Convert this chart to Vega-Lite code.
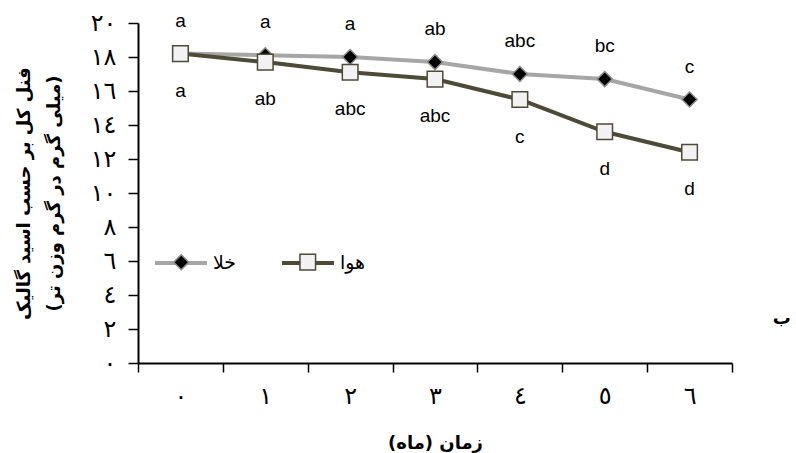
{
  "$schema": "https://vega.github.io/schema/vega-lite/v6.json",
  "width": 594,
  "height": 340,
  "autosize": {"type": "none"},
  "padding": {"left": 138, "top": 23, "right": 64, "bottom": 90},
  "background": "white",
  "config": {
    "view": {"stroke": null},
    "axis": {"grid": false, "domainColor": "black", "tickColor": "black", "labelColor": "black", "titleColor": "black"},
    "axisY": {"labelOverlap": false, "labelFontSize": 24, "labelFont": "DejaVu Sans"},
    "axisX": {"labelFontSize": 24, "labelFont": "DejaVu Sans"}
  },
  "title": {"text": "ب", "orient": "right", "angle": 0, "anchor": "end", "offset": 40, "dy": -142, "fontSize": 18, "fontWeight": "bold", "font": "DejaVu Sans", "color": "black"},
  "data": {
    "values": [
      {"month": 0, "series": "خلا", "sym": "خلا", "value": 18.2, "letter": "a"},
      {"month": 1, "series": "خلا", "sym": "خلا", "value": 18.1, "letter": "a"},
      {"month": 2, "series": "خلا", "sym": "خلا", "value": 18.0, "letter": "a"},
      {"month": 3, "series": "خلا", "sym": "خلا", "value": 17.7, "letter": "ab"},
      {"month": 4, "series": "خلا", "sym": "خلا", "value": 17.0, "letter": "abc"},
      {"month": 5, "series": "خلا", "sym": "خلا", "value": 16.7, "letter": "bc"},
      {"month": 6, "series": "خلا", "sym": "خلا", "value": 15.5, "letter": "c"},
      {"month": 0, "series": "هوا", "sym": "هوا", "value": 18.2, "letter": "a"},
      {"month": 1, "series": "هوا", "sym": "هوا", "value": 17.7, "letter": "ab"},
      {"month": 2, "series": "هوا", "sym": "هوا", "value": 17.1, "letter": "abc"},
      {"month": 3, "series": "هوا", "sym": "هوا", "value": 16.7, "letter": "abc"},
      {"month": 4, "series": "هوا", "sym": "هوا", "value": 15.5, "letter": "c"},
      {"month": 5, "series": "هوا", "sym": "هوا", "value": 13.6, "letter": "d"},
      {"month": 6, "series": "هوا", "sym": "هوا", "value": 12.4, "letter": "d"}
    ]
  },
  "layer": [
    {
      "mark": {"type": "line", "strokeWidth": 4},
      "encoding": {
        "x": {
          "field": "month", "type": "ordinal",
          "scale": {"type": "band", "paddingInner": 0, "paddingOuter": 0},
          "axis": {
            "labelExpr": "['٠','١','٢','٣','٤','٥','٦'][datum.value]",
            "labelAngle": 0, "tickBand": "extent", "tickSize": 9, "tickWidth": 1.5, "domainWidth": 2,
            "labelPadding": 12,
            "title": "زمان (ماه)", "titleFont": "DejaVu Sans", "titleFontSize": 18, "titleFontWeight": "bold", "titlePadding": 26
          }
        },
        "y": {
          "field": "value", "type": "quantitative",
          "scale": {"domain": [0, 20]},
          "axis": {
            "values": [0, 2, 4, 6, 8, 10, 12, 14, 16, 18, 20],
            "tickCount": 11,
            "labelExpr": "['٠','٢','٤','٦','٨','١٠','١٢','١٤','١٦','١٨','٢٠'][round(datum.value/2)]",
            "labelOverlap": false,
            "tickSize": 10, "tickWidth": 1.5, "domainWidth": 2, "labelPadding": 12,
            "title": ["فنل کل بر حسب اسید گالیک", "(میلی گرم در گرم وزن تر)"],
            "titleFont": "DejaVu Sans", "titleFontSize": 18, "titleFontWeight": "bold", "titleLineHeight": 30, "titlePadding": 27
          }
        },
        "color": {
          "field": "series", "type": "nominal",
          "scale": {"range": ["#a6a6a6", "#4d4a37"]},
          "legend": {
            "orient": "none", "legendX": 15, "legendY": 212, "direction": "horizontal", "title": null,
            "symbolType": "M-1,0L1,0", "symbolSize": 2704, "symbolStrokeWidth": 4,
            "labelFont": "DejaVu Sans", "labelFontSize": 19, "labelColor": "black", "labelOffset": 4,
            "columnPadding": 37, "padding": 0
          }
        }
      }
    },
    {
      "mark": {"type": "point", "filled": true, "size": 2704, "strokeWidth": 1.5, "opacity": 1},
      "encoding": {
        "x": {"field": "month", "type": "ordinal"},
        "y": {"field": "value", "type": "quantitative"},
        "shape": {
          "field": "sym", "type": "nominal",
          "scale": {"range": ["M0,-0.29L0.29,0L0,0.29L-0.29,0Z", "M-0.3,-0.3L0.3,-0.3L0.3,0.3L-0.3,0.3Z"]},
          "legend": {
            "orient": "none", "legendX": 15, "legendY": 212, "direction": "horizontal", "title": null,
            "symbolSize": 2704, "symbolStrokeWidth": 1.5, "symbolOffset": 1.25,
            "labelFont": "DejaVu Sans", "labelFontSize": 19, "labelOpacity": 0, "labelOffset": 4,
            "columnPadding": 43.5, "padding": 0
          }
        },
        "fill": {"field": "sym", "type": "nominal", "scale": {"range": ["#000000", "#f2f2f2"]}},
        "stroke": {"field": "sym", "type": "nominal", "scale": {"range": ["#8c8c8c", "#4d4a37"]}}
      }
    },
    {
      "transform": [{"filter": "datum.series == 'خلا'"}],
      "mark": {"type": "text", "font": "Liberation Sans", "fontSize": 19, "baseline": "middle", "dy": -33, "color": "black"},
      "encoding": {
        "x": {"field": "month", "type": "ordinal"},
        "y": {"field": "value", "type": "quantitative"},
        "text": {"field": "letter"}
      }
    },
    {
      "transform": [{"filter": "datum.series == 'هوا'"}],
      "mark": {"type": "text", "font": "Liberation Sans", "fontSize": 19, "baseline": "middle", "dy": 37, "color": "black"},
      "encoding": {
        "x": {"field": "month", "type": "ordinal"},
        "y": {"field": "value", "type": "quantitative"},
        "text": {"field": "letter"}
      }
    }
  ]
}
